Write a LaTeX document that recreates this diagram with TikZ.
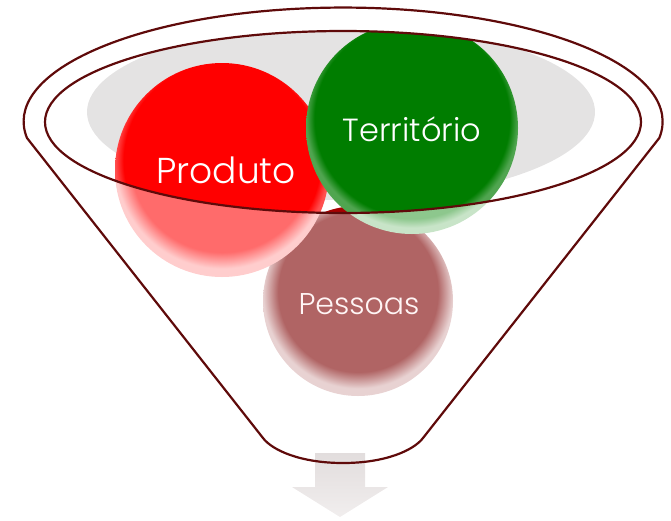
\documentclass[tikz,border=0pt]{standalone}
\usepackage{fontspec}
\setmainfont{Poppins}[UprightFont=* Light]
\definecolor{rimc}{RGB}{95,10,10}
\definecolor{greyc}{RGB}{228,227,227}
\definecolor{redhiA}{RGB}{255,0,0}
\definecolor{redhiB}{RGB}{255,80,80}
\definecolor{redloA}{RGB}{255,107,107}
\definecolor{redloB}{RGB}{255,205,205}
\definecolor{grnhiA}{RGB}{0,125,0}
\definecolor{grnhiB}{RGB}{80,165,80}
\definecolor{grnloA}{RGB}{141,199,141}
\definecolor{grnloB}{RGB}{200,228,200}
\definecolor{peshiA}{RGB}{168,0,0}
\definecolor{peshiB}{RGB}{190,60,60}
\definecolor{pesloA}{RGB}{176,100,100}
\definecolor{pesloB}{RGB}{232,210,210}
\definecolor{arrowA}{RGB}{226,221,221}
\definecolor{arrowB}{RGB}{241,238,238}
\pgfdeclareradialshading{redhi}{\pgfpoint{0bp}{4bp}}{color(0bp)=(redhiA); color(23bp)=(redhiA); color(25bp)=(redhiB); color(50bp)=(redhiB)}
\pgfdeclareradialshading{redlo}{\pgfpoint{0bp}{4bp}}{color(0bp)=(redloA); color(21.5bp)=(redloA); color(25bp)=(redloB); color(50bp)=(redloB)}
\pgfdeclareradialshading{grnhi}{\pgfpoint{0bp}{4bp}}{color(0bp)=(grnhiA); color(23bp)=(grnhiA); color(25bp)=(grnhiB); color(50bp)=(grnhiB)}
\pgfdeclareradialshading{grnlo}{\pgfpoint{0bp}{3bp}}{color(0bp)=(grnloA); color(23bp)=(grnloA); color(25bp)=(grnloB); color(50bp)=(grnloB)}
\pgfdeclareradialshading{peshi}{\pgfpoint{0bp}{4bp}}{color(0bp)=(peshiA); color(23bp)=(peshiA); color(25bp)=(peshiB); color(50bp)=(peshiB)}
\pgfdeclareradialshading{peslo}{\pgfpoint{0bp}{4bp}}{color(0bp)=(pesloA); color(21bp)=(pesloA); color(25bp)=(pesloB); color(50bp)=(pesloB)}
\tikzset{
  rimline/.style={draw=rimc, line width=2.2pt},
  balltext/.style={text=white, inner sep=0pt, anchor=base, font=\fontsize{36}{40}\selectfont},
  terrtext/.style={text=white, inner sep=0pt, anchor=base, font=\fontsize{32}{36}\selectfont},
  smalltext/.style={text=white!96!red, inner sep=0pt, anchor=base, font=\fontsize{30}{34}\selectfont}
}
\begin{document}
\begin{tikzpicture}[x=1pt,y=-1pt]
\useasboundingbox (0,0) rectangle (671,520);
% centres of the three balls
\coordinate (cprod) at (222,170);
\coordinate (cterr) at (412,128);
\coordinate (cpess) at (358,301);
% arrow below the funnel
\shade[top color=arrowA, bottom color=arrowB]
  (315,453) -- (365,453) -- (365,487) -- (388,487) -- (340,517) -- (292,487) -- (315,487) -- cycle;
% grey inner disc
\begin{scope}
  \clip (343,122) ellipse[x radius=298, y radius=91];
  \fill[greyc] (341,112) ellipse[x radius=254, y radius=88];
\end{scope}
% balls seen through the funnel body
\begin{scope}
  \clip (0,122) rectangle (671,520);
  \shade[shading=peslo] (cpess) circle[radius=95];
  \shade[shading=redlo] (cprod) circle[radius=107];
  \shade[shading=grnlo] (cterr) circle[radius=106];
\end{scope}
% balls inside the rim
\begin{scope}
  \clip (343,122) ellipse[x radius=298, y radius=91];
  \shade[shading=peshi] (cpess) circle[radius=95];
  \shade[shading=redhi] (cprod) circle[radius=107];
  \shade[shading=grnhi] (cterr) circle[radius=106];
\end{scope}
% labels
\node[balltext] (produto) at (226,183) {Produto};
\node[terrtext] (territorio) at (412,141) {Território};
\node[smalltext] (pessoas) at (359,314) {Pessoas};
% funnel outline
\path[rimline] (27,138) arc[start angle=171.7, end angle=368.3, x radius=319.5, y radius=114]
  -- (423,438) .. controls (414,450) and (386,463) .. (343,463)
  .. controls (300,463) and (272,450) .. (263,438) -- cycle;
\path[rimline] (343,122) ellipse[x radius=298, y radius=91];
\end{tikzpicture}
\end{document}
